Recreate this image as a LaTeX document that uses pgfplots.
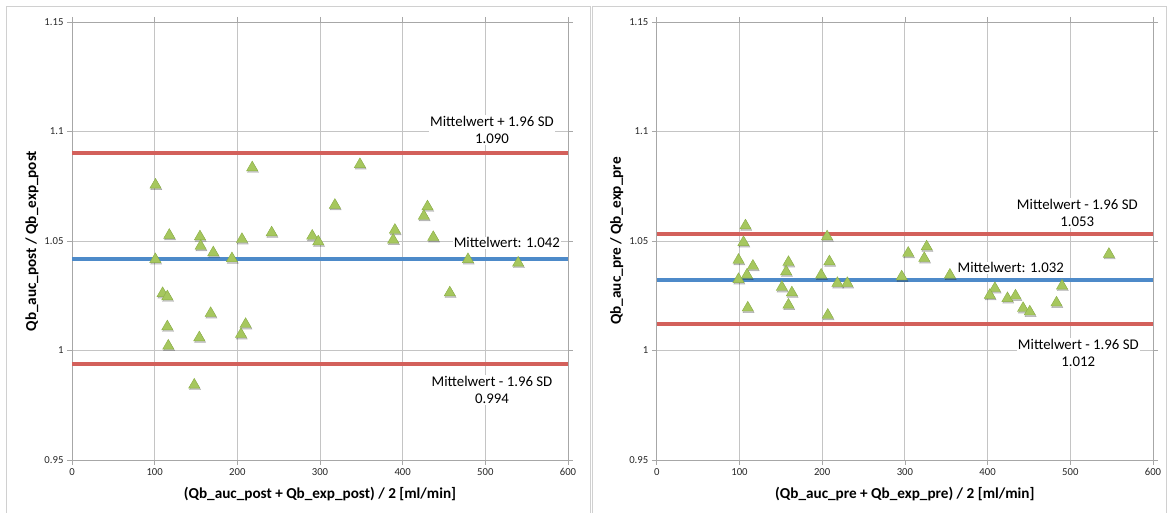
\documentclass[border=0pt]{standalone}
\usepackage{fontspec}
\setmainfont{Carlito}
\usepackage{pgfplots}
\usepackage{pgfplotstable}
\pgfplotsset{compat=1.18}
\definecolor{exred}{HTML}{D3605B}
\definecolor{exblue}{HTML}{4D8AC9}
\definecolor{exgreen}{HTML}{A6C75E}
\definecolor{exgreend}{HTML}{8AAE45}
\definecolor{gridc}{HTML}{C4C4C4}
\definecolor{framec}{HTML}{D0D0D0}

\pgfplotstableread{
x y
101 1.0756
218 1.0835
117.7 1.0527
154.8 1.0520
155.6 1.0477
170.9 1.0447
193.5 1.0420
205.6 1.0508
241.5 1.0538
100.8 1.0416
290.6 1.0523
297.9 1.0497
348.3 1.0850
318 1.0664
390.6 1.0550
388.5 1.0505
430 1.0657
425.6 1.0614
437 1.0517
479 1.0416
539.7 1.0400
109.6 1.0261
115.3 1.0246
167.7 1.0170
115.3 1.0109
210 1.0120
204.4 1.0074
154 1.0059
116.5 1.0021
147.9 0.9843
457 1.0264
}\postdata

\pgfplotstableread{
x y
107.2 1.0570
104.8 1.0494
98.8 1.0413
116.2 1.0386
109 1.0345
98.8 1.0325
110 1.0195
159.2 1.0403
156.4 1.0360
151.2 1.0289
163.3 1.0264
159.2 1.0208
205.9 1.0520
208.7 1.0406
198.7 1.0345
218.4 1.0307
230.4 1.0307
206.7 1.0162
296.1 1.0337
304 1.0445
326.3 1.0474
323.4 1.0421
354.4 1.0345
408.8 1.0284
402.7 1.0253
424 1.0238
433.7 1.0250
442.9 1.0193
451 1.0177
483.3 1.0218
490 1.0295
546.7 1.0440
}\predata

\pgfplotsset{
  baplot/.style={
    scale only axis, height=438pt,
    xmin=0, xmax=600, ymin=0.95, ymax=1.15,
    xtick={0,100,200,300,400,500,600},
    ytick={0.95,1,1.05,1.1,1.15},
    yticklabels={0.95,1,1.05,1.1,1.15},
    grid=major, major grid style={gridc, line width=0.9pt},
    axis line style={gridc!85!black, line width=0.9pt},
    tick align=outside, major tick length=5pt,
    tick style={gridc!85!black, line width=0.8pt},
    ticklabel style={font=\fontsize{10.7}{12}\selectfont, text=black!85},
    /pgf/number format/assume math mode=true,
    xlabel style={font=\bfseries\fontsize{15.2}{16}\selectfont, at={(axis description cs:0.5,-0.0776)}, anchor=center},
    ylabel style={font=\bfseries\fontsize{15.2}{16}\selectfont, anchor=center, at={(axis description cs:-0.0805,0.5)}},
    anchor=south west,
  },
  shadowmk/.style={only marks, mark=triangle*, mark size=6.5pt,
    mark options={fill=black, draw=none, opacity=0.22, xshift=0.8pt, yshift=-1.6pt}},
  greenmk/.style={only marks, mark=triangle*, mark size=6.5pt,
    mark options={fill=exgreen, draw=exgreend, line width=0.4pt}},
}
\tikzset{annot/.style={fill=white, align=center, inner sep=1pt, font=\fontsize{14.8}{17.6}\selectfont}}

\begin{document}
\begin{tikzpicture}[x=1pt,y=1pt]
\path[use as bounding box] (0,0) rectangle (1171,513);
\draw[framec, line width=1pt] (6,0) -- (6,506) -- (590,506) -- (590,0);
\draw[framec, line width=1pt] (592,0) -- (592,506) -- (1166,506) -- (1166,0);

\begin{axis}[baplot, at={(72pt,53pt)}, width=496pt,
  xlabel={(Qb\_auc\_post + Qb\_exp\_post) / 2 [ml/min]},
  ylabel={Qb\_auc\_post / Qb\_exp\_post},
]
\addplot[exred, line width=4pt] coordinates {(0,1.090) (600,1.090)};
\addplot[exred, line width=4pt] coordinates {(0,0.994) (600,0.994)};
\addplot[exblue, line width=4pt] coordinates {(0,1.042) (600,1.042)};
\addplot[shadowmk] table[x=x,y=y] {\postdata};
\addplot[greenmk] table[x=x,y=y] {\postdata};
\node[annot] at (axis cs:508,1.1007) {Mittelwert + 1.96 SD\\1.090};
\node[annot] at (axis cs:526,1.0492) {Mittelwert: 1.042};
\node[annot] at (axis cs:508,0.982) {Mittelwert - 1.96 SD\\0.994};
\end{axis}

\begin{axis}[baplot, at={(656.8pt,53pt)}, width=496.2pt,
  xlabel={(Qb\_auc\_pre + Qb\_exp\_pre) / 2 [ml/min]},
  ylabel={Qb\_auc\_pre / Qb\_exp\_pre},
]
\addplot[exred, line width=4pt] coordinates {(0,1.053) (600,1.053)};
\addplot[exred, line width=4pt] coordinates {(0,1.012) (600,1.012)};
\addplot[exblue, line width=4pt] coordinates {(0,1.032) (600,1.032)};
\addplot[shadowmk] table[x=x,y=y] {\predata};
\addplot[greenmk] table[x=x,y=y] {\predata};
\node[annot] at (axis cs:508.5,1.0628) {Mittelwert - 1.96 SD\\1.053};
\node[annot] at (axis cs:428,1.0378) {Mittelwert: 1.032};
\node[annot] at (axis cs:509.7,0.9989) {Mittelwert - 1.96 SD\\1.012};
\end{axis}
\end{tikzpicture}
\end{document}
